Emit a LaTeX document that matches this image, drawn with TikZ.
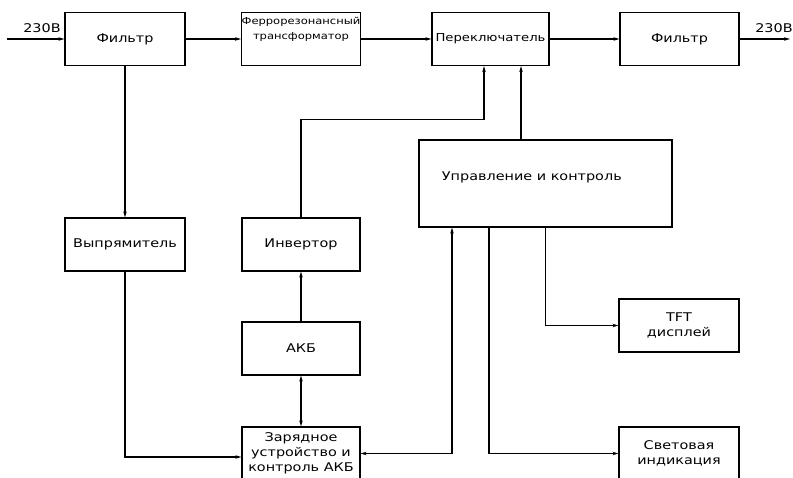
\documentclass[tikz,border=0pt]{standalone}
\usepackage{fontspec}
\setmainfont{DejaVu Sans}[FakeStretch=1.2]
\usetikzlibrary{arrows.meta}
\begin{document}
\begin{tikzpicture}
[x=1pt,y=-1pt,
 block/.style={draw,line width=1.2pt,inner sep=0pt,minimum width=120pt,minimum height=53pt,align=center,font=\fontsize{12}{15}\selectfont},
 arr/.style={line width=1.1pt,-{Stealth[length=6pt,width=3.5pt]}},
 twoway/.style={line width=1.1pt,{Stealth[length=6pt,width=3.5pt]}-{Stealth[length=6pt,width=3.5pt]}},
 volt/.style={font=\fontsize{12}{15}\selectfont}]
\useasboundingbox (0,0) rectangle (793,478);
\clip (0,0) rectangle (793,478);

\node (filtA) at (125,39) [block] {Фильтр};
\node (ferro) at (301,39) [block,minimum width=118pt,font=\fontsize{9.6}{15}\selectfont] {Феррорезонансный\\трансформатор\\[6pt]};
\node (switch) at (490.5,39) [block,minimum width=117pt,font=\fontsize{11}{15}\selectfont] {Переключатель};
\node (filtB) at (679.5,39) [block,minimum width=119pt] {Фильтр};
\node (rect) at (125,244.5) [block] {Выпрямитель};
\node (inv) at (301,244.5) [block,minimum width=118pt] {Инвертор};
\node (akb) at (301,348.5) [block,minimum width=118pt] {АКБ};
\node (charger) at (301,453.5) [block,minimum width=118pt] {Зарядное\\устройство и\\контроль АКБ};
\node (ctrl) at (545.5,183.5) [block,minimum width=253pt,minimum height=87pt] {};
\node (ctrltext) at ([xshift=20pt,yshift=6pt]ctrl.west) [anchor=west,volt] {Управление и контроль};
\node (tft) at (679,325.5) [block] {TFT\\дисплей};
\node (light) at (679,453.5) [block] {Световая\\индикация};

\coordinate (in) at (7,39);
\coordinate (out) at (790,39);
\node (voltin) at (42,28) [volt] {230В};
\node (voltout) at (774,28) [volt] {230В};

\foreach \from/\to in {in/filtA, filtA/ferro, ferro/switch, switch/filtB, filtB/out, filtA/rect, akb/inv}
	\draw [arr] (\from) -- (\to);

\draw [twoway] (akb) -- (charger);
\draw [arr] (rect.south) |- ([yshift=-3.5pt]charger.west);
\draw [arr] (inv.north) -- ++(0,-98) -| ([xshift=-6.5pt]switch.south);
\draw [arr] ([xshift=-24.5pt]ctrl.north) -- ([xshift=30.5pt]switch.south);
\draw [twoway] (charger.east) -| ([xshift=-93.5pt]ctrl.south);
\draw [arr] ([xshift=-56.5pt]ctrl.south) |- (light.west);
\draw [arr] (ctrl.south) |- (tft.west);

\end{tikzpicture}
\end{document}
